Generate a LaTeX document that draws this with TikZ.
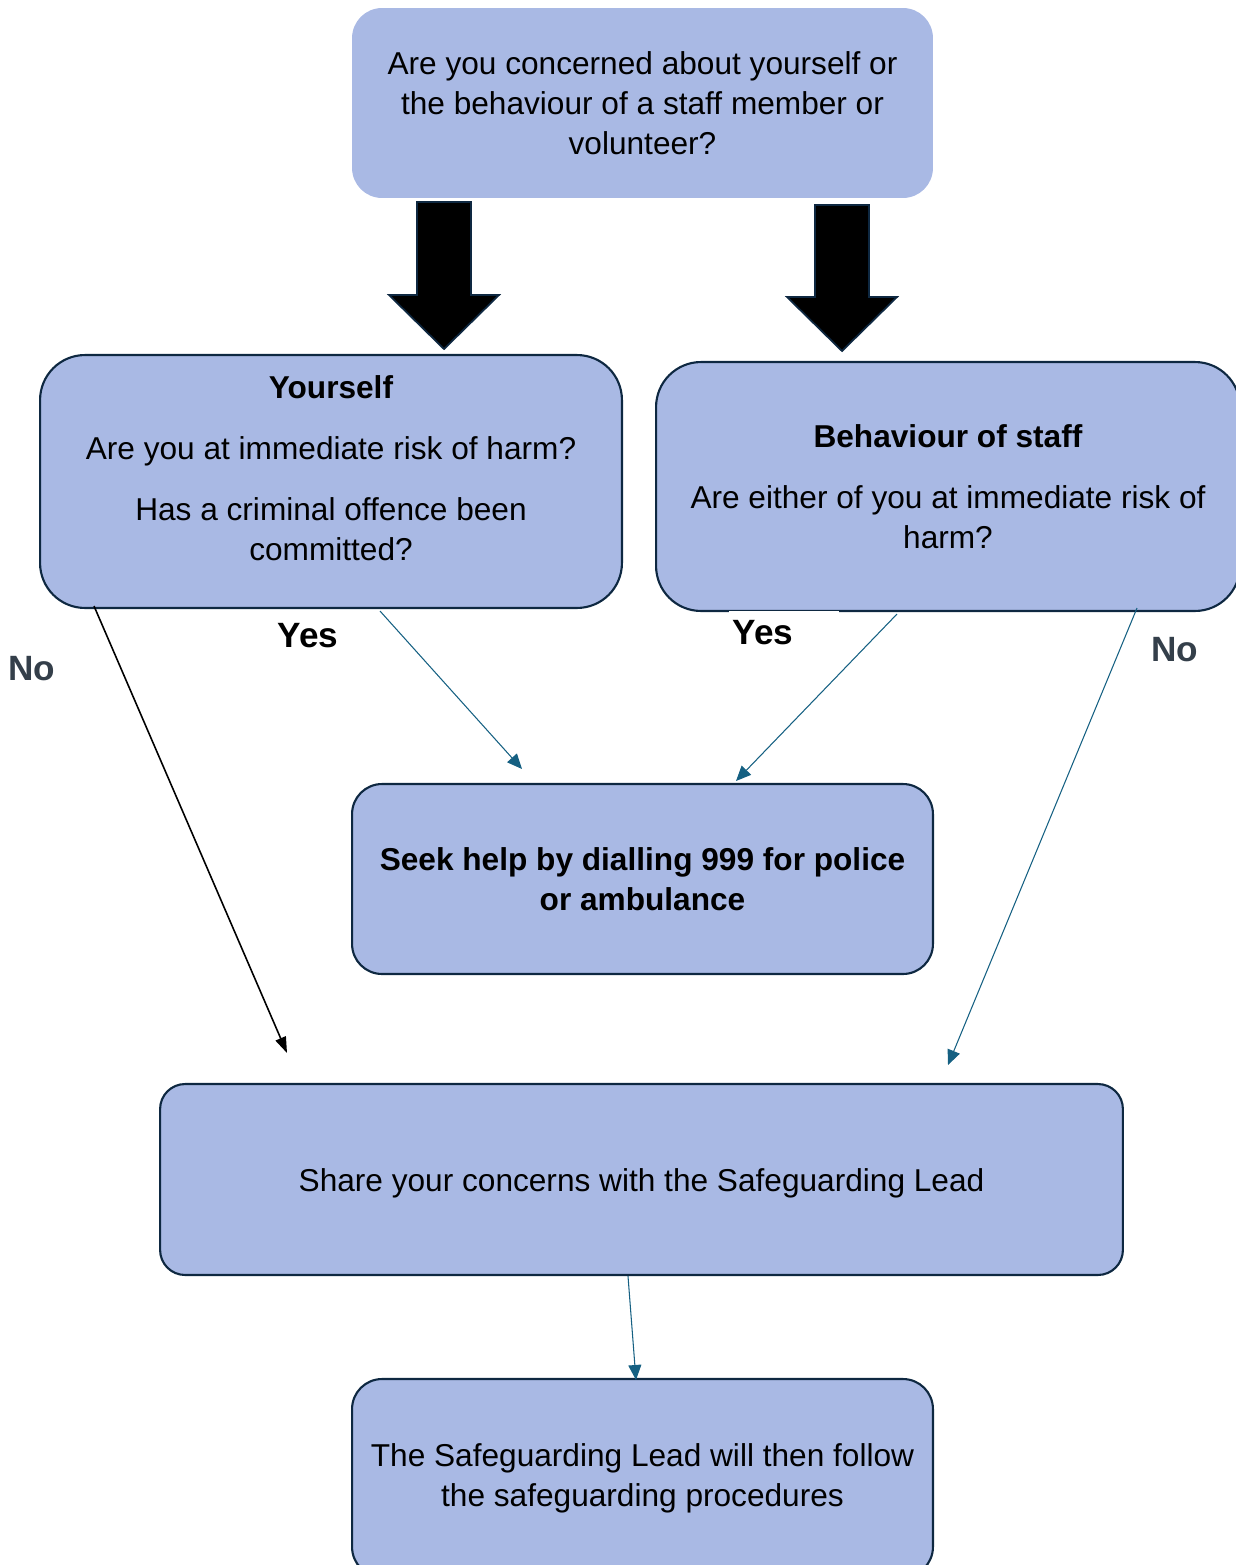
\documentclass[tikz,border=0pt]{standalone}
\usepackage{fontspec}
\setmainfont{Liberation Sans}
\usetikzlibrary{positioning,arrows.meta,calc}
\definecolor{boxFill}{HTML}{A9B9E4}
\definecolor{boxStroke}{HTML}{0E2841}
\definecolor{linkColor}{HTML}{156082}
\definecolor{noColor}{HTML}{343F4A}

\begin{document}
\begin{tikzpicture}[
  x=0.02cm, y=-0.02cm,
  font=\fontsize{18}{22.7}\selectfont,
  qbox/.style  ={fill=boxFill, draw=boxStroke, line width=1.2pt, rounded corners=0.6cm, align=center, inner sep=0pt},
  big/.style   ={qbox, rounded corners=0.9cm},
  txt/.style   ={align=center, inner sep=0pt},
  yes/.style   ={-{Triangle[length=3mm, width=2.6mm]}, linkColor, line width=0.6pt},
  nol/.style   ={-{Triangle[length=3.2mm, width=2.2mm]}, black, line width=0.9pt},
  lbl/.style   ={font=\fontsize{20}{24}\selectfont\bfseries, inner sep=1pt},
  blk/.style   ={fill=black, draw=boxStroke, line width=1pt},
]
\useasboundingbox (0,0) rectangle (1236,1565);
\clip (0,0) rectangle (1236,1565);

% ==================== Top: question ====================
\node[qbox, draw=none, minimum width=11.62cm, minimum height=3.8cm] (ask) at (642.5,103)
  {Are you concerned about yourself or\\the behaviour of a staff member or\\volunteer?};

% block arrows down
\foreach \ax/\ay/\hy in {444/202/295, 842/205/297}{
  \draw[blk] (\ax-27,\ay) -- (\ax+27,\ay) -- (\ax+27,\hy) -- (\ax+55,\hy)
    -- (\ax,\hy+54) -- (\ax-55,\hy) -- (\ax-27,\hy) -- cycle;
}

% ==================== Middle: two branches ====================
\node[big, minimum width=11.64cm, minimum height=5.06cm] (self) at (331,481.5) {};
\node[txt] (selftxt) at ($(self.center)+(0,-13)$)
  {\textbf{Yourself}\\[12pt]Are you at immediate risk of harm?\\[12pt]Has a criminal offence been\\committed?};

\node[big, minimum width=11.68cm, minimum height=4.98cm] (staff) at (948,486.5)
  {\textbf{Behaviour of staff}\\[12pt]Are either of you at immediate risk of\\harm?};

\node[qbox, minimum width=11.62cm, minimum height=3.8cm] (seek) at (642.5,879)
  {\textbf{Seek help by dialling 999 for police}\\\textbf{or ambulance}};

% ==================== Bottom: safeguarding lead ====================
\node[qbox, rounded corners=0.5cm, minimum width=19.26cm, minimum height=3.82cm] (share) at (641.5,1179.5) {};
\node[txt] (sharetxt) at ($(share.center)+(0,4)$) {Share your concerns with the Safeguarding Lead};

\node[qbox, minimum width=11.62cm, minimum height=3.96cm] (lead) at (642.5,1478)
  {The Safeguarding Lead will then follow\\the safeguarding procedures};

% ==================== Labels ====================
\node[lbl, text=noColor] (noA) at (32,669) {No};
\node[lbl] (yesA) at (308,636) {Yes};
\node[lbl, fill=white, anchor=west, text width=2.2cm, align=left, inner xsep=0pt, minimum height=0.9cm] (yesB) at (729,633) {\hspace{2pt}Yes};
\node[lbl, text=noColor] (noB) at (1175,650) {No};

% ==================== Arrows ====================
\coordinate (noAend)  at (287,1053);
\coordinate (yesAend) at (522,769);
\coordinate (yesBend) at (736,781);
\coordinate (noBend)  at (948,1065);

\draw[nol] ($(self.south west)+(55,-3)$) -- (noAend);
\draw[yes] ($(self.south)+(49,2)$) -- (yesAend);
\draw[yes] ($(staff.south)+(-51,2)$) -- (yesBend);
\draw[yes] ($(staff.south)+(189,-4)$) -- (noBend);
\draw[yes] ($(share.south)+(-13.5,0)$) -- ($(lead.north)+(-6.5,2)$);

\end{tikzpicture}
\end{document}
